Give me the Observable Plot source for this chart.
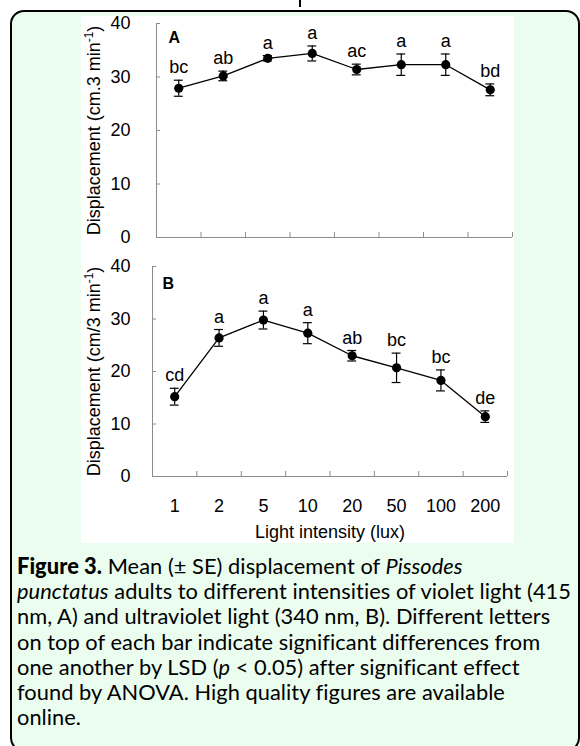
<!DOCTYPE html>
<html><head><meta charset="utf-8">
<script src="https://cdn.jsdelivr.net/npm/d3@7"></script>
<script src="https://cdn.jsdelivr.net/npm/@observablehq/plot@0.6"></script>
<style>
html,body{margin:0;padding:0;background:#fff;}
body{width:580px;height:746px;overflow:hidden;position:relative;}
#topmark{position:absolute;left:299px;top:0;width:2px;height:7px;background:#000;}
#box{position:absolute;left:10px;top:10px;width:566px;height:738px;border:2px solid #000;border-radius:14px;background:#ebfdef;}
#white{position:absolute;left:69px;top:4px;width:433px;height:527px;background:#fff;}
#pa{position:absolute;left:0;top:0;}
#pb{position:absolute;left:0;top:230px;}
#cap{position:absolute;left:5px;top:541px;font-family:Lato,"Open Sans",sans-serif;font-size:21.8px;letter-spacing:0.05px;line-height:25.2px;color:#000;white-space:nowrap;}
#cap b{font-weight:900;}
</style>
</head><body>
<div id="topmark"></div>
<div id="box">
  <div id="white"><div id="pa"></div><div id="pb"></div></div>
  <div id="cap"><b>Figure 3.</b> Mean (± SE) displacement of <i>Pissodes</i><br><i>punctatus</i> adults to different intensities of violet light (415<br>nm, A) and ultraviolet light (340 nm, B). Different letters<br>on top of each bar indicate significant differences from<br>one another by LSD (<i>p</i> &lt; 0.05) after significant effect<br>found by ANOVA. High quality figures are available<br>online.</div>
</div>
<script>
const categories = ["1", "2", "5", "10", "20", "50", "100", "200"];
const meanA = [27.9, 30.2, 33.5, 34.4, 31.4, 32.3, 32.3, 27.6];
const seA = [1.5, 0.9, 0.5, 1.4, 1.0, 2.0, 2.0, 1.1];
const lettersA = ["bc", "ab", "a", "a", "ac", "a", "a", "bd"];
const meanB = [15.2, 26.4, 29.8, 27.3, 23.0, 20.7, 18.3, 11.4];
const seB = [1.6, 1.6, 1.7, 2.0, 1.0, 2.8, 2.0, 1.1];
const lettersB = ["cd", "a", "a", "a", "ab", "bc", "bc", "de"];
const yTicks = [0, 10, 20, 30, 40];
const xTitle = "Light intensity (lux)";
const yTitleA = "Displacement (cm.3 min-1)";
const yTitleB = "Displacement (cm/3 min-1)";
const panelA = "A";
const panelB = "B";

const AXIS = "#8c8c8c";

function rows(means, ses, letters) {
  return categories.map((c, i) => ({
    c, x: i + 0.5, m: means[i], lo: means[i] - ses[i], hi: means[i] + ses[i], letter: letters[i]
  }));
}

function panel(o) {
  const data = rows(o.means, o.ses, o.letters);
  const marks = [
    Plot.ruleX([0], {stroke: AXIS}),
    Plot.ruleY([0], {stroke: AXIS}),
    Plot.axisY({ticks: yTicks, tickSize: -4, tickPadding: o.yPad, stroke: AXIS, fill: "black", label: null}),
    Plot.axisX({ticks: d3.range(categories.length + 1), tickSize: -5, tickFormat: () => "", stroke: AXIS, label: null}),
    Plot.line(data, {x: "x", y: "m", stroke: "black", strokeWidth: 1.3}),
    Plot.ruleX(data, {x: "x", y1: "lo", y2: "hi", stroke: "black", strokeWidth: 1.2}),
    Plot.ruleY(data, {y: "lo", x1: d => d.x - 0.1, x2: d => d.x + 0.1, stroke: "black", strokeWidth: 1.2}),
    Plot.ruleY(data, {y: "hi", x1: d => d.x - 0.1, x2: d => d.x + 0.1, stroke: "black", strokeWidth: 1.2}),
    Plot.dot(data, {x: "x", y: "m", r: 4.6, fill: "black"}),
    Plot.text(data, {x: "x", y: "hi", text: "letter", lineAnchor: "bottom", dy: -7, fill: "black"}),
    Plot.text([o.panel], {frameAnchor: "top-left", textAnchor: "start", lineAnchor: "top", dx: o.pdx, dy: o.pdy, fontWeight: "bold", fontSize: 16}),
    Plot.text([o.title], {frameAnchor: "left", rotate: -90, dx: o.tdx, lineAnchor: "middle", textAnchor: "middle"})
  ];
  if (o.showX) {
    marks.push(Plot.axisX({ticks: categories.map((c, i) => i + 0.5), tickSize: 0, tickPadding: 23, tickFormat: v => categories[Math.floor(v)], label: null}));
    marks.push(Plot.text([xTitle], {frameAnchor: "bottom", lineAnchor: "middle", dy: 56}));
  }
  const svg = Plot.plot({
    width: 433, height: o.height,
    marginLeft: o.ml, marginRight: o.mr, marginTop: o.mt, marginBottom: o.mb,
    x: {type: "linear", domain: [0, categories.length], label: null},
    y: {domain: [0, 40], label: null},
    style: {fontFamily: '"Liberation Sans", Arial, sans-serif', fontSize: "18px", background: "transparent", overflow: "visible", color: "black"},
    marks
  });
  // superscript for "min-1"
  d3.select(svg).selectAll("text").each(function() {
    const t = this.textContent;
    if (this.childElementCount === 0 && t.includes("min-1")) {
      const [pre, post] = t.split("-1");
      this.textContent = pre;
      d3.select(this).append("tspan").attr("dy", "-7").attr("font-size", 12).text("-1");
      d3.select(this).append("tspan").attr("dy", "7").text(post);
    }
  });
  return svg;
}

document.getElementById("pa").append(panel({
  means: meanA, ses: seA, letters: lettersA, panel: panelA, title: yTitleA,
  height: 240, ml: 75, mr: 2, mt: 7, mb: 19, yPad: 30, tdx: -62, pdx: 12, pdy: 8, showX: false
}));
document.getElementById("pb").append(panel({
  means: meanB, ses: seB, letters: lettersB, panel: panelB, title: yTitleB,
  height: 297, ml: 71, mr: 7, mt: 20, mb: 67, yPad: 26, tdx: -58, pdx: 10, pdy: 11, showX: true
}));
</script>
</body></html>
